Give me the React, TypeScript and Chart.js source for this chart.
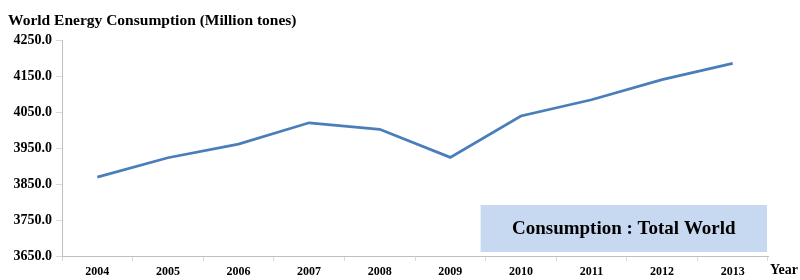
import React, { useEffect, useRef } from "react";
import { Chart, registerables } from "chart.js";

Chart.register(...registerables);

const years = ["2004", "2005", "2006", "2007", "2008", "2009", "2010", "2011", "2012", "2013"];
const consumption = [3869, 3923, 3961, 4020, 4002, 3924, 4039, 4084, 4140, 4185];
const yTicks = [3650, 3750, 3850, 3950, 4050, 4150, 4250];
const chartTitle = "World Energy Consumption (Million tones)";
const xAxisTitle = "Year";
const boxLabel = "Consumption : Total World";

const SERIF = "'Liberation Serif', 'Times New Roman', serif";

const overlayPlugin = {
  id: "overlay",
  beforeDatasetsDraw(chart: any) {
    const ctx = chart.ctx;
    const xs = chart.scales.x;
    ctx.save();
    const bx0 = xs.getPixelForValue(5) + 0.5 * (xs.getPixelForValue(6) - xs.getPixelForValue(5)) - 5;
    const bx1 = chart.chartArea.right - 1;
    const by0 = 205;
    const by1 = 252;
    ctx.fillStyle = "#c6d9f0";
    ctx.fillRect(bx0, by0, bx1 - bx0, by1 - by0);
    ctx.fillStyle = "#000";
    ctx.font = `bold 19px ${SERIF}`;
    ctx.textAlign = "center";
    ctx.textBaseline = "middle";
    ctx.fillText(boxLabel, (bx0 + bx1) / 2, (by0 + by1) / 2 + 1);
    ctx.restore();
  },
  afterDraw(chart: any) {
    const ctx = chart.ctx;
    ctx.save();
    ctx.fillStyle = "#000";
    ctx.font = `bold 15.5px ${SERIF}`;
    ctx.textAlign = "left";
    ctx.textBaseline = "middle";
    ctx.fillText(chartTitle, 8, 21);
    ctx.font = `bold 14px ${SERIF}`;
    ctx.fillText(xAxisTitle, 770, 270);
    ctx.restore();
  },
};

export default function App() {
  const ref = useRef<HTMLCanvasElement | null>(null);
  useEffect(() => {
    if (!ref.current) return;
    const chart = new Chart(ref.current, {
      type: "line",
      data: {
        labels: years,
        datasets: [
          {
            data: consumption,
            borderColor: "#4a7ebb",
            borderWidth: 2.75,
            pointRadius: 0,
            tension: 0,
            fill: false,
          },
        ],
      },
      options: {
        animation: false,
        responsive: false,
        layout: { padding: { top: 40, right: 32, left: 0, bottom: 0 } },
        plugins: { legend: { display: false }, tooltip: { enabled: false }, title: { display: false } },
        scales: {
          x: {
            offset: true,
            grid: { offset: true, drawOnChartArea: false, tickLength: 5, color: "#d9d9d9" },
            border: { color: "#bfbfbf", width: 1 },
            ticks: {
              color: "#000",
              font: { family: SERIF, size: 12, weight: "bold" },
              maxRotation: 0,
              padding: 4,
            },
            afterFit: (s: any) => {
              s.height = 24;
            },
          },
          y: {
            min: yTicks[0],
            max: yTicks[yTicks.length - 1],
            afterBuildTicks: (s: any) => {
              s.ticks = yTicks.map((v) => ({ value: v }));
            },
            grid: { drawOnChartArea: false, tickLength: 6, color: "#d9d9d9" },
            border: { color: "#bfbfbf", width: 1 },
            ticks: {
              color: "#000",
              font: { family: SERIF, size: 14, weight: "bold" },
              padding: 4,
              callback: (v: any) => Number(v).toFixed(1),
            },
            afterFit: (s: any) => {
              s.width = 62;
            },
          },
        },
      },
      plugins: [overlayPlugin],
    });
    return () => chart.destroy();
  }, []);
  return (
    <div style={{ position: "fixed", left: 0, top: 0, width: 800, height: 280, background: "#fff" }}>
      <canvas ref={ref} width={800} height={280} style={{ display: "block" }} />
    </div>
  );
}
